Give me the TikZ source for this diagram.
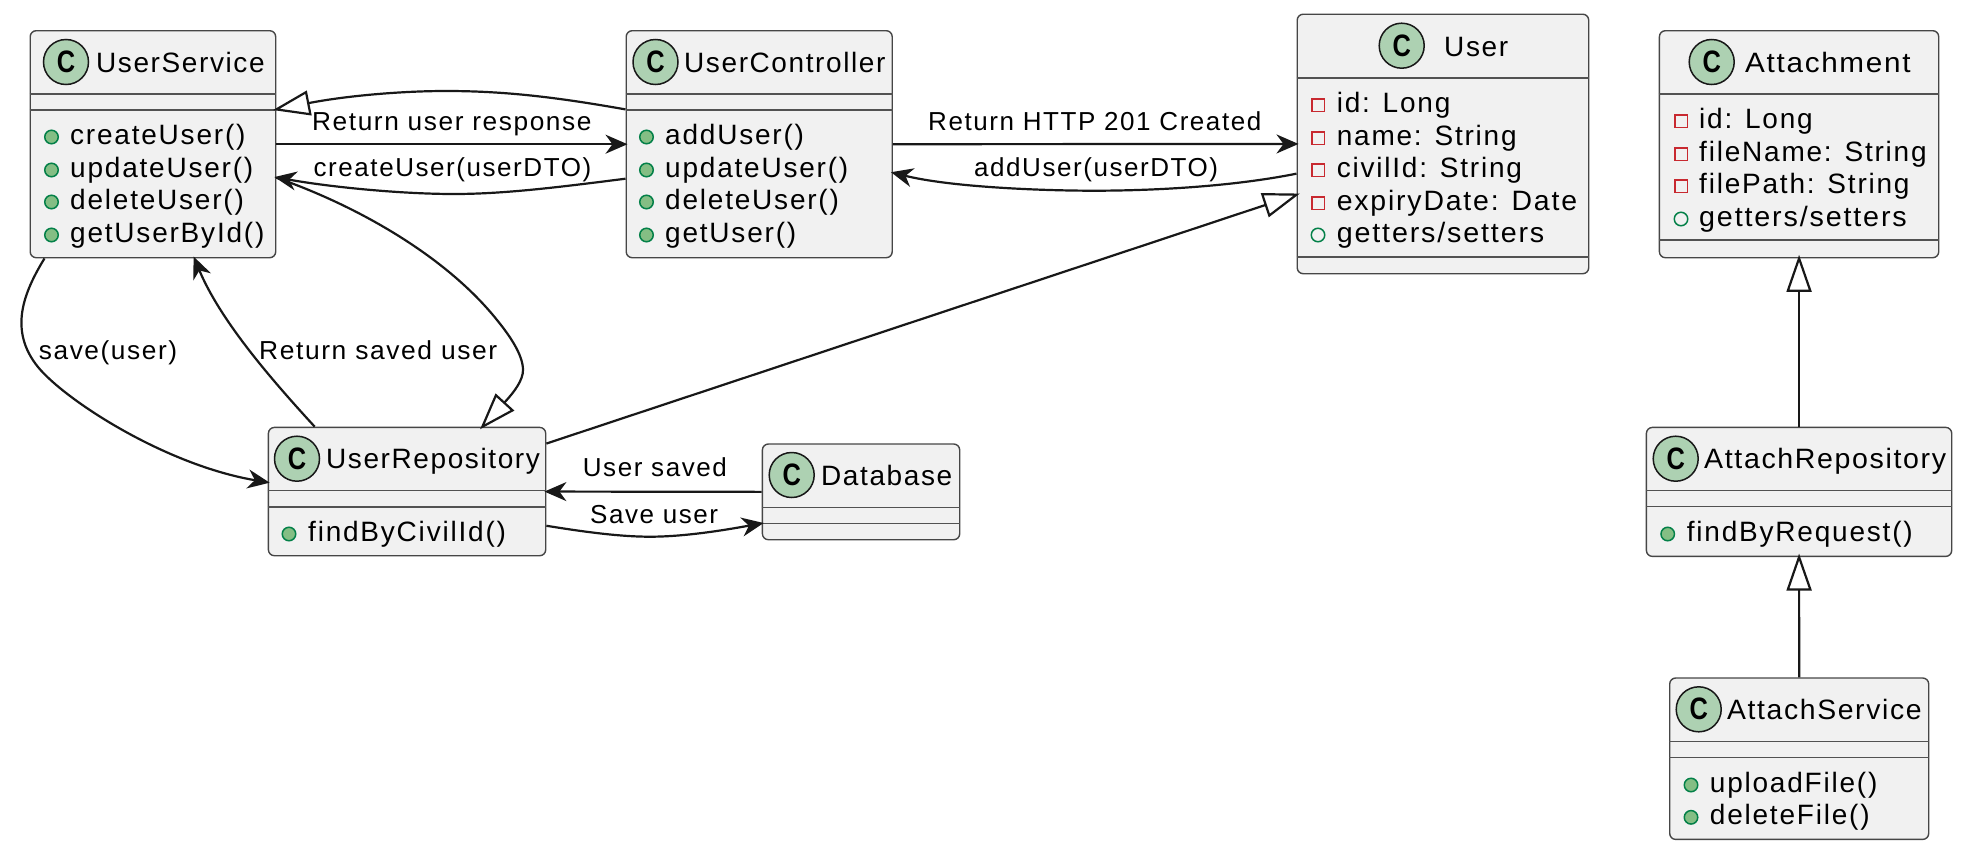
\documentclass[tikz,border=0pt]{standalone}
\usepackage{fontspec}
\usetikzlibrary{arrows.meta,calc}
\setmainfont{Liberation Sans}
\newfontfamily\uttl[LetterSpace=5.7]{Liberation Sans}
\newfontfamily\umem[LetterSpace=6.4]{Liberation Sans}
\newfontfamily\ulbl[LetterSpace=6]{Liberation Sans}
\newfontfamily\uglyph{Liberation Sans}
\definecolor{lc}{HTML}{181818}
\definecolor{boxfill}{HTML}{F1F1F1}
\definecolor{spotc}{HTML}{ADD1B2}
\definecolor{pubfill}{HTML}{84BE84}
\definecolor{publine}{HTML}{038048}
\definecolor{privline}{HTML}{C82930}
\tikzset{
  cbox/.style={draw=lc!80!white,fill=boxfill,line width=1.4pt,rounded corners=6pt,anchor=north west,inner sep=0pt},
  sepline/.style={draw=lc!75!white,line width=1.2pt},
  spot/.style={circle,draw=lc,fill=spotc,line width=1.5pt,minimum size=45pt,inner sep=0pt,font=\uglyph\bfseries\fontsize{31}{31}\selectfont},
  ttl/.style={anchor=base west,inner sep=0pt,yshift=-1pt,font=\uttl\fontsize{28}{32}\selectfont,text=black},
  mtxt/.style={anchor=base west,inner sep=0pt,yshift=-1pt,font=\umem\fontsize{28}{32}\selectfont,text=black},
  lbl/.style={anchor=base west,inner sep=0pt,yshift=-1pt,font=\ulbl\fontsize{26}{30}\selectfont,text=black},
  pubm/.style={circle,draw=publine,fill=pubfill,line width=1.5pt,minimum size=13.5pt,inner sep=0pt},
  pubo/.style={circle,draw=publine,fill=none,line width=1.5pt,minimum size=13.5pt,inner sep=0pt},
  privm/.style={rectangle,draw=privline,fill=none,line width=1.5pt,minimum size=12.5pt,inner sep=0pt},
  ar/.style={draw=lc,line width=2.2pt,shorten >=-2pt,-{Stealth[length=22pt,width=19pt,inset=7pt]}},
  inh/.style={draw=lc,line width=2.2pt,shorten >=-3.5pt,-{Triangle[length=37pt,width=25pt,fill=white]}},
}
\newcommand\cglyph{\scalebox{.82}[1]{C}}
\newcommand\sx[2]{\scalebox{#1}[1]{#2}}
\newcommand\mem[6]{\node[#2] (#1m) at (#3,#5) {};\node[mtxt] (#1t) at (#4,#5+6) {#6};}
\newcommand\sepl[2]{\draw[sepline] ($(#1.north west)+(0,#2)$) -- ($(#1.north east)+(0,#2)$);}
\begin{document}
\begin{tikzpicture}[x=1pt,y=-1pt]
\useasboundingbox (0,0) rectangle (1964,852);

% UserService
\node[cbox,minimum width=245.5pt,minimum height=227pt] (us) at (29.5,30) {};
\sepl{us}{64}\sepl{us}{80}
\node[spot] (usc) at (66,62) {\cglyph};
\node[ttl] (ust) at (96,71) {UserService};
\mem{usa}{pubm}{51.5}{70}{137}{createUser()}
\mem{usb}{pubm}{51.5}{70}{170}{updateUser()}
\mem{usd}{pubm}{51.5}{70}{202}{deleteUser()}
\mem{use}{pubm}{51.5}{70}{235}{getUserById()}

% UserController
\node[cbox,minimum width=266pt,minimum height=227pt] (uc) at (625.5,30) {};
\sepl{uc}{64}\sepl{uc}{80}
\node[spot] (ucc) at (655.5,62) {\cglyph};
\node[ttl] (uct) at (684,71) {UserController};
\mem{uca}{pubm}{646.5}{665}{137}{addUser()}
\mem{ucb}{pubm}{646.5}{665}{170}{updateUser()}
\mem{ucd}{pubm}{646.5}{665}{202}{deleteUser()}
\mem{uce}{pubm}{646.5}{665}{235}{getUser()}

% User
\node[cbox,minimum width=291.5pt,minimum height=259.5pt] (u) at (1296.5,13.5) {};
\sepl{u}{64.5}\sepl{u}{243.5}
\node[spot] (uk) at (1401.7,45.7) {\cglyph};
\node[ttl] (ut) at (1444,55) {User};
\mem{ua}{privm}{1318}{1336.6}{105}{id: Long}
\mem{ub}{privm}{1318}{1336.6}{138}{name: String}
\mem{ud}{privm}{1318}{1336.6}{170}{civilId: String}
\mem{ue}{privm}{1318}{1336.6}{203}{\sx{1.015}{expiryDate: Date}}
\mem{uf}{pubo}{1318}{1336.6}{235}{\sx{1.025}{getters/setters}}

% Attachment
\node[cbox,minimum width=279.3pt,minimum height=227pt] (at) at (1658.7,30) {};
\sepl{at}{64}\sepl{at}{210}
\node[spot] (atc) at (1711.7,62) {\cglyph};
\node[ttl] (att) at (1745,71) {\sx{1.06}{Attachment}};
\mem{ata}{privm}{1681}{1699}{121}{id: Long}
\mem{atb}{privm}{1681}{1699}{154}{fileName: String}
\mem{atd}{privm}{1681}{1699}{186}{filePath: String}
\mem{ate}{pubo}{1681}{1699}{219}{\sx{1.025}{getters/setters}}

% AttachRepository
\node[cbox,minimum width=305.3pt,minimum height=129pt] (ar) at (1645.7,426.7) {};
\sepl{ar}{64}\sepl{ar}{80}
\node[spot] (arc) at (1675.7,458.7) {\cglyph};
\node[ttl] (art) at (1704,467.7) {\sx{1.02}{AttachRepository}};
\mem{ara}{pubm}{1667.7}{1686.7}{534}{findByRequest()}

% AttachService
\node[cbox,minimum width=259pt,minimum height=161.4pt] (as) at (1669,677.3) {};
\sepl{as}{64.4}\sepl{as}{80}
\node[spot] (asc) at (1698.7,709.3) {\cglyph};
\node[ttl] (ast) at (1727,718.3) {\sx{1.013}{AttachService}};
\mem{asa}{pubm}{1691}{1709.7}{785}{uploadFile()}
\mem{asb}{pubm}{1691}{1709.7}{817.3}{deleteFile()}

% UserRepository
\node[cbox,minimum width=277.3pt,minimum height=128.3pt] (ur) at (267.7,426.7) {};
\sepl{ur}{64}\sepl{ur}{80.3}
\node[spot] (urc) at (297,458.7) {\cglyph};
\node[ttl] (urt) at (326,467.7) {UserRepository};
\mem{ura}{pubm}{289}{308}{534}{findByCivilId()}

% Database
\node[cbox,minimum width=197.3pt,minimum height=95.7pt] (db) at (761.7,443.3) {};
\sepl{db}{64}\sepl{db}{80}
\node[spot] (dbc) at (791.7,475) {\cglyph};
\node[ttl] (dbt) at (821,484) {Database};

% connectors
\draw[inh] ([yshift=34.8pt]uc.west) .. controls (550,96) and (500,91) .. (446,91)
  .. controls (400,91) and (345,96) .. ([yshift=34.8pt]us.east);
\draw[ar] (us.east) -- (uc.west);
\draw[ar] ([yshift=-34.5pt]uc.west) .. controls (560,187) and (505,194) .. (454,194)
  .. controls (400,194) and (330,187) .. ([yshift=-33.2pt]us.east);
\draw[ar] (uc.east) -- (u.west);
\draw[ar] ([yshift=-29.7pt]u.west) .. controls (1230,187) and (1150,190.7) .. (1094,190.7)
  .. controls (1040,190.7) and (950,187) .. ([yshift=-28.5pt]uc.east);
\draw[inh] ([yshift=48pt]ur.east) -- ([yshift=-50.7pt]u.west);
\draw[ar] ([xshift=15pt]us.south west) .. controls (24,292) and (8,330) .. (38,367)
  .. controls (65,400) and (165,465) .. ([yshift=9.2pt]ur.west);
\draw[ar] ([xshift=47pt]ur.north west) .. controls (270,378) and (220,320) .. ([xshift=-82pt]us.south east);
\draw[inh] ([yshift=-33.5pt]us.east) .. controls (355,205) and (445,255) .. (497,320)
  .. controls (510,336) and (523,355) .. (523,370)
  .. controls (523,380) and (515,391) .. ([xshift=-64pt]ur.north east);
\draw[ar] (db.west) -- (ur.east);
\draw[ar] ([yshift=-34.2pt]ur.east) .. controls (585,532) and (620,536.7) .. (650,536.7)
  .. controls (685,536.7) and (725,530) .. ([yshift=-31.5pt]db.west);
\draw[inh] (as.north) -- (ar.south);
\draw[inh] (ar.north) -- (at.south);

% labels
\node[lbl] (l1) at (312,129) {\sx{1.01}{Return user response}};
\node[lbl] (l2) at (313.5,175) {createUser(userDTO)};
\node[lbl] (l3) at (928,129.3) {Return HTTP 201 Created};
\node[lbl] (l4) at (974,175) {addUser(userDTO)};
\node[lbl] (l5) at (38.7,358) {\sx{1.01}{save(user)}};
\node[lbl] (l6) at (259,358) {\sx{1.016}{Return saved user}};
\node[lbl] (l7) at (582.7,475.7) {User saved};
\node[lbl] (l8) at (590,522) {Save user};
\end{tikzpicture}
\end{document}
